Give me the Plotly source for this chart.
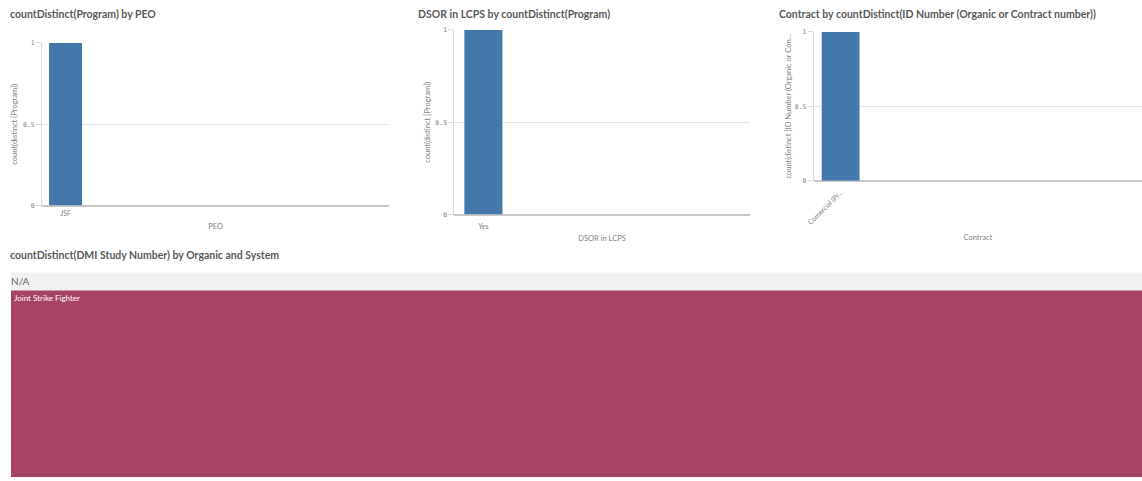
import plotly.graph_objects as go

W, H = 1142, 481

# ---- data ----
peo_categories = ["JSF"]
peo_program_counts = [1]

dsor_categories = ["Yes"]
dsor_program_counts = [1]

contract_categories = ["Comercial (Pr..."]
contract_id_counts = [1]

tree_labels = ["N/A", "Joint Strike Fighter"]
tree_parents = ["", "N/A"]
tree_values = [1, 1]

y_ticks = [0, 0.5, 1]
y_tick_text = ["0", "0.5", "1"]

BAR_COLOR = "#4477aa"
TREE_COLORS = ["#f1f1f1", "#a74465"]
TITLE_COLOR = "#595959"
AXIS_TEXT = "#7f7f7f"
FONT = "Lato"

# page placement of the plot area: offset and visible extent in pixels
OX, OY = 7, 3
VW, VH = 1133, 474


def px_x(p):
    return min(max((p - OX) / VW, 0), 1)


def px_y(p):
    return min(max(1 - (p - OY) / VH, 0), 1)


fig = go.Figure()

# layout boxes (left, right, top, bottom) and category ranges for each bar chart
panels = [
    dict(cats=peo_categories, vals=peo_program_counts, box=(41, 388, 42, 205),
         xr=[-0.57, 7.84], xtitle="PEO", ytitle="count(distinct [Program])",
         tickangle=0, ticklen=1, ystand=4, xstand=7),
    dict(cats=dsor_categories, vals=dsor_program_counts, box=(453, 748, 29, 214),
         xr=[-0.61, 5.60], xtitle="DSOR in LCPS", ytitle="count(distinct [Program])",
         tickangle=0, ticklen=5, ystand=3, xstand=6),
    dict(cats=contract_categories, vals=contract_id_counts, box=(812, 1142, 31, 180),
         xr=[-0.57, 6.38], xtitle="Contract",
         ytitle="count(distinct [ID Number (Organic or Con...",
         tickangle=-45, ticklen=4, ystand=2, xstand=9),
]

for i, p in enumerate(panels, start=1):
    xa = "x" if i == 1 else f"x{i}"
    ya = "y" if i == 1 else f"y{i}"
    fig.add_trace(go.Bar(
        x=p["cats"], y=p["vals"], xaxis=xa, yaxis=ya, width=0.8,
        marker=dict(color=BAR_COLOR, line=dict(width=0)), showlegend=False,
        hoverinfo="x+y",
    ))
    x0, x1, y0, y1 = p["box"]
    key = "" if i == 1 else str(i)
    fig.update_layout(**{
        f"xaxis{key}": dict(
            domain=[px_x(x0), px_x(x1)], anchor=ya, type="category",
            range=p["xr"], showgrid=False, zeroline=False, showline=False,
            ticks="outside", ticklen=p["ticklen"], tickcolor="rgba(0,0,0,0)",
            tickangle=p["tickangle"],
            tickfont=dict(family=FONT, size=7, color=AXIS_TEXT),
            title=dict(text=p["xtitle"], standoff=p["xstand"],
                       font=dict(family=FONT, size=7.5, color=AXIS_TEXT)),
        ),
        f"yaxis{key}": dict(
            domain=[px_y(y1), px_y(y0)], anchor=xa, range=[0, 1],
            tickvals=y_ticks, ticktext=y_tick_text,
            showgrid=True, gridcolor="#e3e3e3", gridwidth=1,
            zeroline=True, zerolinecolor="#c8c8c8", zerolinewidth=1.5,
            showline=True, linecolor="#d9d9d9", linewidth=1,
            ticks="outside", ticklen=5, tickcolor="#d9d9d9",
            tickfont=dict(family="DejaVu Sans Mono", size=6.5, color=AXIS_TEXT),
            title=dict(text=p["ytitle"], standoff=p["ystand"],
                       font=dict(family=FONT, size=7.5, color=AXIS_TEXT)),
        ),
    })

# Treemap of DMI study numbers by organic group and system
fig.add_trace(go.Treemap(
    labels=tree_labels, parents=tree_parents, values=tree_values,
    branchvalues="total",
    domain=dict(x=[px_x(10), 1], y=[0, px_y(272)]),
    marker=dict(colors=TREE_COLORS, line=dict(width=0),
                pad=dict(t=18, l=0, r=0, b=0)),
    tiling=dict(pad=0),
    pathbar=dict(visible=False),
    textposition="top left",
    textinfo="label",
    textfont=dict(family=FONT, size=[10, 8], color=["#666666", "#ffffff"]),
    hoverinfo="label+value",
))

titles = [
    (7, 13, "countDistinct(Program) by PEO"),
    (415, 13, "DSOR in LCPS by countDistinct(Program)"),
    (775, 13, "Contract by countDistinct(ID Number (Organic or Contract number))"),
    (7, 255, "countDistinct(DMI Study Number) by Organic and System"),
]
for x, y, t in titles:
    fig.add_annotation(
        x=px_x(x), y=px_y(y), xref="paper", yref="paper",
        xanchor="left", yanchor="middle", showarrow=False,
        text=f"<b>{t}</b>",
        font=dict(family=FONT, size=10.5, color=TITLE_COLOR),
    )

fig.update_layout(
    width=W, height=H, margin=dict(l=0, r=0, t=0, b=0),
    paper_bgcolor="white", plot_bgcolor="white",
    bargap=0.2,
)

fig.write_html("out.html")
